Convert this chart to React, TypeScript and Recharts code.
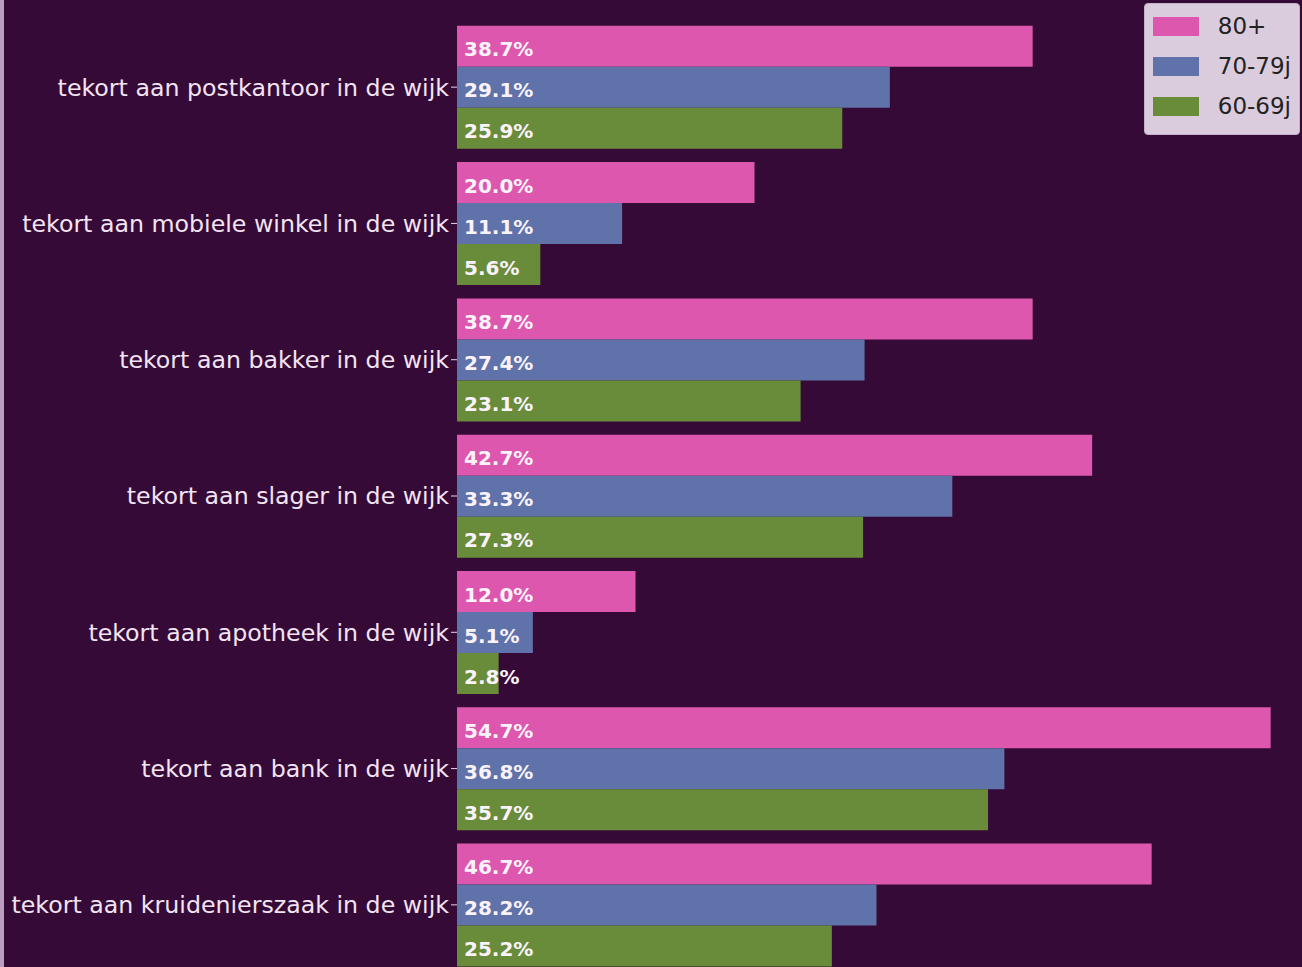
import { BarChart, Bar, XAxis, YAxis, LabelList } from "recharts"

const categories = [
  "tekort aan postkantoor in de wijk",
  "tekort aan mobiele winkel in de wijk",
  "tekort aan bakker in de wijk",
  "tekort aan slager in de wijk",
  "tekort aan apotheek in de wijk",
  "tekort aan bank in de wijk",
  "tekort aan kruidenierszaak in de wijk",
]
const age80 = [38.7, 20.0, 38.7, 42.7, 12.0, 54.7, 46.7]
const age70 = [29.1, 11.1, 27.4, 33.3, 5.1, 36.8, 28.2]
const age60 = [25.9, 5.6, 23.1, 27.3, 2.8, 35.7, 25.2]

const series = [
  { key: "a80", label: "80+", color: "#dc57ad" },
  { key: "a70", label: "70-79j", color: "#5f72a9" },
  { key: "a60", label: "60-69j", color: "#698c3b" },
]

const data = categories.map((name, i) => ({
  name,
  a80: age80[i],
  a70: age70[i],
  a60: age60[i],
}))

const font = "'DejaVu Sans', sans-serif"

// legend drawn on top, so it doesn't shrink the plot area
const LegendBox = () => (
  <div
    style={{
      position: "absolute",
      top: 3,
      right: 2,
      background: "#dacbdd",
      border: "1px solid #c4b2c8",
      borderRadius: 4,
      padding: "2px 8px 8px 8px",
      fontFamily: font,
      fontSize: 23,
      color: "#222",
    }}
  >
    {series.map((s) => (
      <div key={s.key} style={{ display: "flex", alignItems: "center", height: 40 }}>
        <span
          style={{
            display: "inline-block",
            width: 46,
            height: 19,
            background: s.color,
            marginRight: 19,
          }}
        />
        <span>{s.label}</span>
      </div>
    ))}
  </div>
)

const App = () => {
  return (
    <div
      style={{
        position: "absolute",
        left: 0,
        top: 0,
        width: 1302,
        height: 967,
        overflow: "hidden",
        background: "#360a36",
      }}
    >
      <div
        style={{
          position: "absolute",
          left: 0,
          top: 0,
          width: 4,
          height: 967,
          background: "#bb9dc0",
        }}
      />
      <BarChart
        width={1302}
        height={990}
        data={data}
        layout="vertical"
        margin={{ top: 19, right: 12, bottom: 17, left: 0 }}
        barCategoryGap="5%"
        barGap={0}
      >
        <XAxis type="number" domain={[0, 56]} hide />
        <YAxis
          type="category"
          dataKey="name"
          width={457}
          axisLine={false}
          tickLine={{ stroke: "#e6d6e6" }}
          tickSize={6}
          tickMargin={2}
          tick={{ fill: "#f2e4f2", fontSize: 23.7, fontFamily: font }}
          interval={0}
        />
        {series.map((s) => (
          <Bar key={s.key} dataKey={s.key} fill={s.color} isAnimationActive={false}>
            <LabelList
              dataKey={s.key}
              position="insideLeft"
              offset={7}
              dy={3}
              fill="#fbf3fb"
              fontSize={20}
              fontWeight="bold"
              fontFamily={font}
              formatter={(v: number) => `${v.toFixed(1)}%`}
            />
          </Bar>
        ))}
      </BarChart>
      <LegendBox />
    </div>
  )
}

export default App
